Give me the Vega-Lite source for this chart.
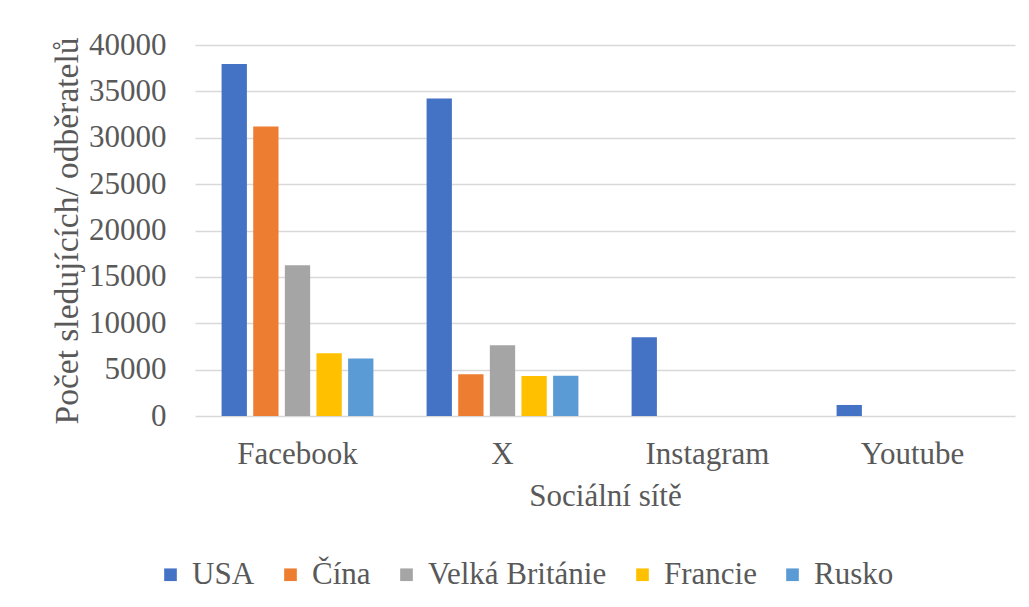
{
  "$schema": "https://vega.github.io/schema/vega-lite/v6.json",
  "width": 820,
  "height": 371,
  "autosize": {"type": "none"},
  "padding": {"left": 195, "top": 45, "right": 14, "bottom": 191},
  "background": "white",
  "config": {
    "view": {"stroke": null},
    "font": "Liberation Serif",
    "axis": {"labelFont": "Liberation Serif", "titleFont": "Liberation Serif", "labelColor": "#595959", "titleColor": "#595959", "titleFontWeight": "normal"},
    "legend": {"labelFont": "Liberation Serif", "titleFont": "Liberation Serif", "labelColor": "#595959"}
  },
  "data": {
    "values": [
      {"sit": "Facebook", "zeme": "USA", "pocet": 37950},
      {"sit": "Facebook", "zeme": "Čína", "pocet": 31200},
      {"sit": "Facebook", "zeme": "Velká Británie", "pocet": 16250},
      {"sit": "Facebook", "zeme": "Francie", "pocet": 6760},
      {"sit": "Facebook", "zeme": "Rusko", "pocet": 6190},
      {"sit": "X", "zeme": "USA", "pocet": 34220},
      {"sit": "X", "zeme": "Čína", "pocet": 4500},
      {"sit": "X", "zeme": "Velká Británie", "pocet": 7620},
      {"sit": "X", "zeme": "Francie", "pocet": 4320},
      {"sit": "X", "zeme": "Rusko", "pocet": 4340},
      {"sit": "Instagram", "zeme": "USA", "pocet": 8490},
      {"sit": "Instagram", "zeme": "Čína", "pocet": 0},
      {"sit": "Instagram", "zeme": "Velká Británie", "pocet": 0},
      {"sit": "Instagram", "zeme": "Francie", "pocet": 0},
      {"sit": "Instagram", "zeme": "Rusko", "pocet": 0},
      {"sit": "Youtube", "zeme": "USA", "pocet": 1190},
      {"sit": "Youtube", "zeme": "Čína", "pocet": 0},
      {"sit": "Youtube", "zeme": "Velká Británie", "pocet": 0},
      {"sit": "Youtube", "zeme": "Francie", "pocet": 0},
      {"sit": "Youtube", "zeme": "Rusko", "pocet": 0}
    ]
  },
  "mark": {"type": "bar"},
  "encoding": {
    "x": {
      "field": "sit",
      "type": "nominal",
      "sort": ["Facebook", "X", "Instagram", "Youtube"],
      "scale": {"paddingInner": 0.244, "paddingOuter": 0.122},
      "axis": {
        "title": "Sociální sítě",
        "labelAngle": 0,
        "labelFontSize": 31,
        "titleFontSize": 31,
        "labelPadding": 23,
        "titlePadding": 12,
        "ticks": false,
        "domain": false
      }
    },
    "xOffset": {
      "field": "zeme",
      "type": "nominal",
      "sort": ["USA", "Čína", "Velká Británie", "Francie", "Rusko"],
      "scale": {"paddingInner": 0.2, "paddingOuter": 0.05}
    },
    "y": {
      "field": "pocet",
      "type": "quantitative",
      "scale": {"domain": [0, 40000], "nice": false},
      "axis": {
        "title": "Počet sledujících/ odběratelů",
        "values": [0, 5000, 10000, 15000, 20000, 25000, 30000, 35000, 40000],
        "format": "d",
        "labelFontSize": 31,
        "titleFontSize": 33.5,
        "labelPadding": 29,
        "titlePadding": 4,
        "ticks": false,
        "domain": false,
        "grid": true,
        "gridColor": "#D9D9D9",
        "gridWidth": 1.5
      }
    },
    "color": {
      "field": "zeme",
      "type": "nominal",
      "scale": {
        "domain": ["USA", "Čína", "Velká Británie", "Francie", "Rusko"],
        "range": ["#4472C4", "#ED7D31", "#A5A5A5", "#FFC000", "#5B9BD5"]
      },
      "legend": {
        "title": null,
        "orient": "none",
        "direction": "horizontal",
        "legendX": -40,
        "legendY": 514,
        "symbolType": "square",
        "symbolSize": 160,
        "symbolStrokeWidth": 0,
        "labelFontSize": 31,
        "labelOffset": 6,
        "columnPadding": 20,
        "labelLimit": 400
      }
    }
  }
}
